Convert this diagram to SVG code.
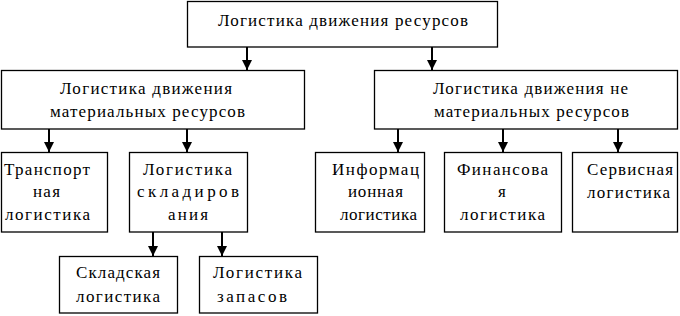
<svg xmlns="http://www.w3.org/2000/svg" width="680" height="316" viewBox="0 0 680 316">
<style>
rect{fill:#fff;stroke:#000;stroke-width:1.3}
text{font-family:'Liberation Serif','Times New Roman',serif;font-size:17px;fill:#000}
.c line{stroke:#000;stroke-width:2}
</style>
<defs>
<marker id="ah" markerUnits="userSpaceOnUse" markerWidth="10" markerHeight="10" refX="10" refY="5" orient="auto" viewBox="0 0 10 10">
<path d="M0,0 L10,5 L0,10 Z" fill="#000"/>
</marker>
</defs>
<rect x="0" y="0" width="680" height="316" style="fill:#fff;stroke:none"/>
<g class="c" id="connectors">
<line x1="247" y1="47" x2="247" y2="70" marker-end="url(#ah)"/>
<line x1="432" y1="47" x2="432" y2="70" marker-end="url(#ah)"/>
<line x1="49" y1="129" x2="49" y2="152" marker-end="url(#ah)"/>
<line x1="187" y1="129" x2="187" y2="152" marker-end="url(#ah)"/>
<line x1="398" y1="129" x2="398" y2="152" marker-end="url(#ah)"/>
<line x1="503" y1="129" x2="503" y2="152" marker-end="url(#ah)"/>
<line x1="618" y1="129" x2="618" y2="152" marker-end="url(#ah)"/>
<line x1="153" y1="232" x2="153" y2="256" marker-end="url(#ah)"/>
<line x1="222" y1="232" x2="222" y2="256" marker-end="url(#ah)"/>
</g>
<g id="n-root">
<rect x="187.5" y="1.5" width="310" height="45.5"/>
<text x="218" y="26" textLength="250" lengthAdjust="spacing">Логистика движения ресурсов</text>
</g>
<g id="n-mat">
<rect x="1.5" y="70.5" width="303" height="58.5"/>
<text x="60" y="94" textLength="172" lengthAdjust="spacing">Логистика движения</text>
<text x="50" y="117" textLength="195" lengthAdjust="spacing">материальных ресурсов</text>
</g>
<g id="n-nonmat">
<rect x="374.5" y="70.5" width="303" height="58.5"/>
<text x="433" y="94" textLength="195" lengthAdjust="spacing">Логистика движения не</text>
<text x="434" y="117" textLength="195" lengthAdjust="spacing">материальных ресурсов</text>
</g>
<g id="n-transport">
<rect x="1.5" y="152.5" width="106" height="79.5"/>
<text x="4" y="175" textLength="86" lengthAdjust="spacing">Транспорт</text>
<text x="33" y="197" textLength="27" lengthAdjust="spacing">ная</text>
<text x="5" y="220" textLength="85" lengthAdjust="spacing">логистика</text>
</g>
<g id="n-warehousing">
<rect x="129.5" y="152.5" width="118" height="79.5"/>
<text x="143" y="175" textLength="89" lengthAdjust="spacing">Логистика</text>
<text x="137" y="197" textLength="102" lengthAdjust="spacing">складиров</text>
<text x="168" y="220" textLength="40" lengthAdjust="spacing">ания</text>
</g>
<g id="n-info">
<rect x="315.5" y="152.5" width="109" height="79.5"/>
<text x="332" y="175" textLength="87" lengthAdjust="spacing">Информац</text>
<text x="348" y="197" textLength="55" lengthAdjust="spacing">ионная</text>
<text x="340" y="220" textLength="77" lengthAdjust="spacing">логистика</text>
</g>
<g id="n-finance">
<rect x="444.5" y="152.5" width="117" height="79.5"/>
<text x="457" y="175" textLength="91" lengthAdjust="spacing">Финансова</text>
<text x="498" y="197">я</text>
<text x="460" y="220" textLength="85" lengthAdjust="spacing">логистика</text>
</g>
<g id="n-service">
<rect x="572.5" y="152.5" width="105" height="79.5"/>
<text x="587" y="175" textLength="86" lengthAdjust="spacing">Сервисная</text>
<text x="587" y="198" textLength="83" lengthAdjust="spacing">логистика</text>
</g>
<g id="n-storage">
<rect x="59.5" y="256.5" width="118" height="56.5"/>
<text x="76" y="278" textLength="84" lengthAdjust="spacing">Складская</text>
<text x="76" y="302" textLength="84" lengthAdjust="spacing">логистика</text>
</g>
<g id="n-stocks">
<rect x="199.5" y="256.5" width="118" height="56.5"/>
<text x="213" y="278" textLength="89" lengthAdjust="spacing">Логистика</text>
<text x="217" y="302" textLength="70" lengthAdjust="spacing">запасов</text>
</g>
</svg>
